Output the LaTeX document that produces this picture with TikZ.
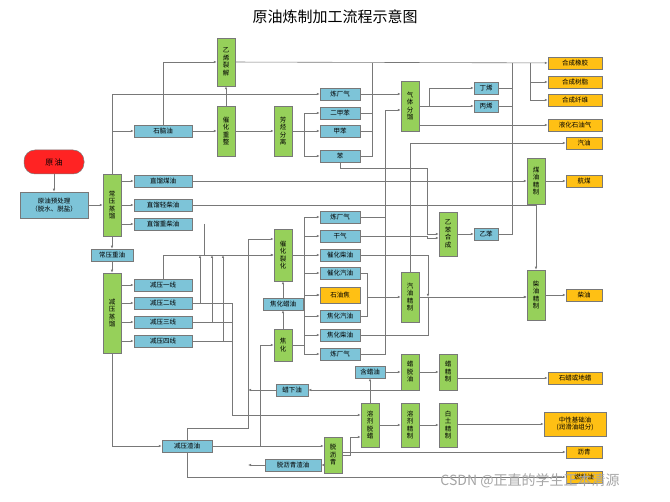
\documentclass[tikz,border=0pt]{standalone}
\usepackage{fontspec}
\setmainfont{Noto Sans CJK SC}
\usetikzlibrary{arrows.meta}
\definecolor{bb}{RGB}{125,196,216}
\definecolor{gg}{RGB}{150,208,90}
\definecolor{oo}{RGB}{255,192,20}
\definecolor{rr}{RGB}{255,35,35}
\definecolor{ll}{RGB}{120,120,120}
\tikzset{
 base/.style={draw=ll,line width=0.5pt,inner sep=0pt,font=\fontsize{6.5}{7.5}\selectfont,align=center},
 bbox/.style={base,fill=bb,minimum width=58pt,minimum height=12pt},
 gbox/.style={base,fill=gg,minimum width=18pt,text width=9pt},
 obox/.style={base,fill=oo,minimum width=54pt,minimum height=12pt},
 ln/.style={draw=ll,line width=0.6pt},
 ar/.style={ln,-{Latex[length=3pt,width=2.5pt]}}
}
\begin{document}
\begin{tikzpicture}[x=1pt,y=-1pt]
\useasboundingbox (0,0) rectangle (670,502);
\fill[white] (0,0) rectangle (670,502);
\node[font=\fontsize{15}{17}\selectfont] (title) at (335,17) {原油炼制加工流程示意图};
% left
\node[base,fill=rr,rounded corners=11pt,minimum width=60pt,minimum height=24pt,font=\fontsize{8}{9}\selectfont] (crude) at (54,162) {原\,油};
\node[bbox,minimum width=68pt,minimum height=26pt] (pre) at (54,205) {原油预处理\\（脱水、脱盐）};
\node[gbox,minimum height=62pt] (atm) at (112,205) {常\\压\\蒸\\馏};
\node[bbox] (nap) at (163,131) {石脑油};
\node[bbox] (kero) at (163,181) {直馏煤油};
\node[bbox] (ldo) at (163,205) {直馏轻柴油};
\node[bbox] (hdo) at (163,224) {直馏重柴油};
\node[bbox,minimum width=42pt] (aro) at (112,255) {常压重油};
\node[gbox,minimum height=80pt] (vac) at (112,313) {减\\压\\蒸\\馏};
\node[bbox] (v1) at (163,285) {减压一线};
\node[bbox] (v2) at (163,303) {减压二线};
\node[bbox] (v3) at (163,322) {减压三线};
\node[bbox] (v4) at (163,341) {减压四线};
\node[bbox,minimum width=50pt] (vr) at (187,446) {减压渣油};
% upper
\node[gbox,minimum height=48pt] (eth) at (226,62) {乙\\烯\\裂\\解};
\node[gbox,minimum height=50pt] (ref) at (226,131) {催\\化\\重\\整};
\node[gbox,minimum height=50pt] (arom) at (283,131) {芳\\烃\\分\\离};
\node[bbox,minimum width=40pt] (rg1) at (340,94) {炼厂气};
\node[bbox,minimum width=40pt] (xyl) at (340,113) {二甲苯};
\node[bbox,minimum width=40pt] (tol) at (340,131) {甲苯};
\node[bbox,minimum width=40pt] (ben) at (340,156) {苯};
\node[gbox,minimum height=50pt] (gsep) at (410,106) {气\\体\\分\\馏};
\node[bbox,minimum width=24pt] (but) at (486,88) {丁烯};
\node[bbox,minimum width=24pt] (pro) at (486,106) {丙烯};
\node[obox] (rub) at (575,63) {合成橡胶};
\node[obox] (res) at (575,82) {合成树脂};
\node[obox] (fib) at (575,100) {合成纤维};
\node[obox] (lpg) at (575,125) {液化石油气};
\node[obox,minimum width=36pt] (gas) at (584,143) {汽油};
\node[gbox,minimum height=46pt] (kref) at (536,181) {煤\\油\\精\\制};
\node[obox,minimum width=36pt] (jet) at (584,181) {航煤};
% middle
\node[bbox,minimum width=40pt] (rg2) at (340,217) {炼厂气};
\node[bbox,minimum width=40pt] (dry) at (340,236) {干气};
\node[bbox,minimum width=40pt] (cdo) at (340,255) {催化柴油};
\node[bbox,minimum width=40pt] (cgo) at (340,273) {催化汽油};
\node[obox,minimum width=40pt,minimum height=16pt] (coke) at (340,295) {石油焦};
\node[bbox,minimum width=40pt] (kgo) at (340,316) {焦化汽油};
\node[bbox,minimum width=40pt] (kdo) at (340,335) {焦化柴油};
\node[bbox,minimum width=40pt] (rg3) at (340,354) {炼厂气};
\node[gbox,minimum height=52pt] (fcc) at (283,255) {催\\化\\裂\\化};
\node[bbox,minimum width=40pt] (kwax) at (283,304) {焦化蜡油};
\node[gbox,minimum height=32pt] (cok) at (283,345) {焦\\化};
\node[gbox,minimum height=44pt] (ebs) at (448,234) {乙\\苯\\合\\成};
\node[bbox,minimum width=24pt] (eb) at (486,234) {乙苯};
\node[gbox,minimum height=50pt] (gref) at (410,297) {汽\\油\\精\\制};
\node[gbox,minimum height=50pt] (dref) at (536,295) {柴\\油\\精\\制};
\node[obox,minimum width=36pt] (dsl) at (584,295) {柴油};
% lower
\node[bbox,minimum width=30pt] (wo) at (370,372) {含蜡油};
\node[gbox,minimum height=36pt] (wdo) at (410,372) {蜡\\脱\\油};
\node[gbox,minimum height=36pt] (wref) at (448,372) {蜡\\精\\制};
\node[obox] (wax) at (575,378) {石蜡或地蜡};
\node[bbox,minimum width=32pt] (fo) at (292,390) {蜡下油};
\node[gbox,minimum height=44pt] (sdw) at (370,425) {溶\\剂\\脱\\蜡};
\node[gbox,minimum height=44pt] (sref) at (410,425) {溶\\剂\\精\\制};
\node[gbox,minimum height=44pt] (cref) at (448,425) {白\\土\\精\\制};
\node[obox,minimum width=62pt,minimum height=24pt] (lube) at (575,424) {中性基础油\\(润滑油组分)};
\node[gbox,minimum height=36pt] (dasp) at (333,455) {脱\\沥\\青};
\node[bbox,minimum width=56pt] (dar) at (293,465) {脱沥青渣油};
\node[obox,minimum width=36pt] (asp) at (584,452) {沥青};
\node[obox,minimum width=36pt] (fuel) at (584,477) {燃料油};
% connectors
\draw[ar] (crude) -- (pre);
\draw[ar] (pre) -- (atm);
\draw[ar] (atm.east |- kero) -- (kero);
\draw[ar] (atm.east |- ldo) -- (ldo);
\draw[ar] (atm.east |- hdo) -- (hdo);
\draw[ar] (atm) -- (aro);
\draw[ar] (aro) -- (vac);
\draw[ar] (atm.north) |- (nap);
\draw[ar] (atm.north) |- (rg1);
\draw[ar] (nap) -- (ref);
\draw[ar] (nap.north) |- (eth);
\draw[ar] (ref) -- (eth);
\draw[ar] (ref) -- (arom);
\draw[ar] (arom.east) -- ++(12,0) |- (xyl);
\draw[ar] (arom.east) ++(12,0) |- (tol);
\draw[ar] (arom.east) ++(12,0) |- (ben);
\draw[ar] (eth) -- (rub);
\draw[ar] (530,63) |- (res);
\draw[ar] (530,63) |- (fib);
\draw[ln] (xyl.east) -| (372,63);
\draw[ln] (tol.east) -| (372,63);
\draw[ln] (ben.east) -| (372,63);
\draw[ar] (rg1) -- (rg1 -| gsep.west);
\draw[ar] (gsep.east) -- ++(10,0) |- (but);
\draw[ar] (gsep.east) ++(10,0) |- (pro);
\draw[ln] (but.east) -| (512,63);
\draw[ln] (pro.east) -| (512,63);
\draw[ln] (eb.east) -| (512,63);
\draw[ar] (gsep.east |- lpg) -- (lpg);
\draw[ar] (gref.north) |- (gas);
\draw[ar] (ben.south) |- (427,168) |- (ebs.west);
\draw[ar] (kero) -- (kref);
\draw[ar] (kref) -- (jet);
\draw[ar] (ldo.east) -| (dref.north);
\draw[ar] (dref) -- (dsl);
\draw[ar] (hdo.east) ++(12,0) |- (fcc.west);
\draw[ar] (fcc.east) -- ++(12,0) |- (rg2);
\draw[ar] (fcc.east) ++(12,0) |- (dry);
\draw[ar] (fcc.east) ++(12,0) |- (cdo);
\draw[ar] (fcc.east) ++(12,0) |- (cgo);
\draw[ar] (fcc.east) ++(12,0) |- (coke);
\draw[ar] (cok.east) -- ++(12,0) |- (coke);
\draw[ar] (cok.east) ++(12,0) |- (kgo);
\draw[ar] (cok.east) ++(12,0) |- (kdo);
\draw[ar] (cok.east) ++(12,0) |- (rg3);
\draw[ar] (cok) -- (kwax);
\draw[ar] (kwax) -- (fcc);
\draw[ar] (rg2.east) -| (385,110) -- (gsep.west |- 0,110);
\draw[ln] (rg3.east) -| (385,217);
\draw[ar] (dry.east) -| (427,238) -- (ebs.west |- 0,238);
\draw[ar] (ebs) -- (eb);
\draw[ar] (cgo.east) -| (367,297) -- (gref.west |- 0,297);
\draw[ln] (kgo.east) -| (367,297);
\draw[ar] (kdo.east) -| (428,297) -- (dref.west |- 0,297);
\draw[ar] (cdo.east) -| (428,297);
\draw[ar] (gref.east) -- (dref.west |- gref);
\draw[ar] (vac.east |- v1) -- (v1);
\draw[ar] (vac.east |- v2) -- (v2);
\draw[ar] (vac.east |- v3) -- (v3);
\draw[ar] (vac.east |- v4) -- (v4);
\draw[ar] (v1.north) |- (fcc.west |- 0,255);
\draw[ar] (v2.east) -| (200,255);
\draw[ar] (v3.east) -| (212,255);
\draw[ar] (v4.east) -| (223,255);
\draw[ar] (v2.east) -- (232,303) |- (sdw.west |- 0,415);
\draw[ln] (v3.east) -- (232,322);
\draw[ln] (v4.east) -- (232,341);
\draw[ar] (vac.south) |- (vr);
\draw[ar] (vr) -- (dasp.west |- vr);
\draw[ar] (260,446) |- (cok.west);
\draw[ar] (vr.north) |- (248,428) |- (fcc.west |- 0,239);
\draw[ar] (sdw) -- (wo);
\draw[ar] (wo) -- (wdo);
\draw[ar] (wdo) -- (wref);
\draw[ar] (wref.east |- wax) -- (wax);
\draw[ar] (wdo.west |- fo) -- (fo);
\draw[ar] (fo.west) -- (248,390);
\draw[ar] (sdw) -- (sref);
\draw[ar] (sref) -- (cref);
\draw[ar] (cref.east |- lube) -- (lube);
\draw[ar] (dasp.east) -- ++(8,0) |- (sdw.west |- 0,437);
\draw[ar] (dasp.east |- asp) -- (asp);
\draw[ar] (dasp.west |- dar) -- (dar);
\draw[ar] (dar.west) -- (248,465);
\draw[ar] (vr.south) |- (fuel);
\node[font=\fontsize{14}{16}\selectfont,text=black!35] (wm) at (530,481) {CSDN @正直的学生正本清源};
\end{tikzpicture}
\end{document}
